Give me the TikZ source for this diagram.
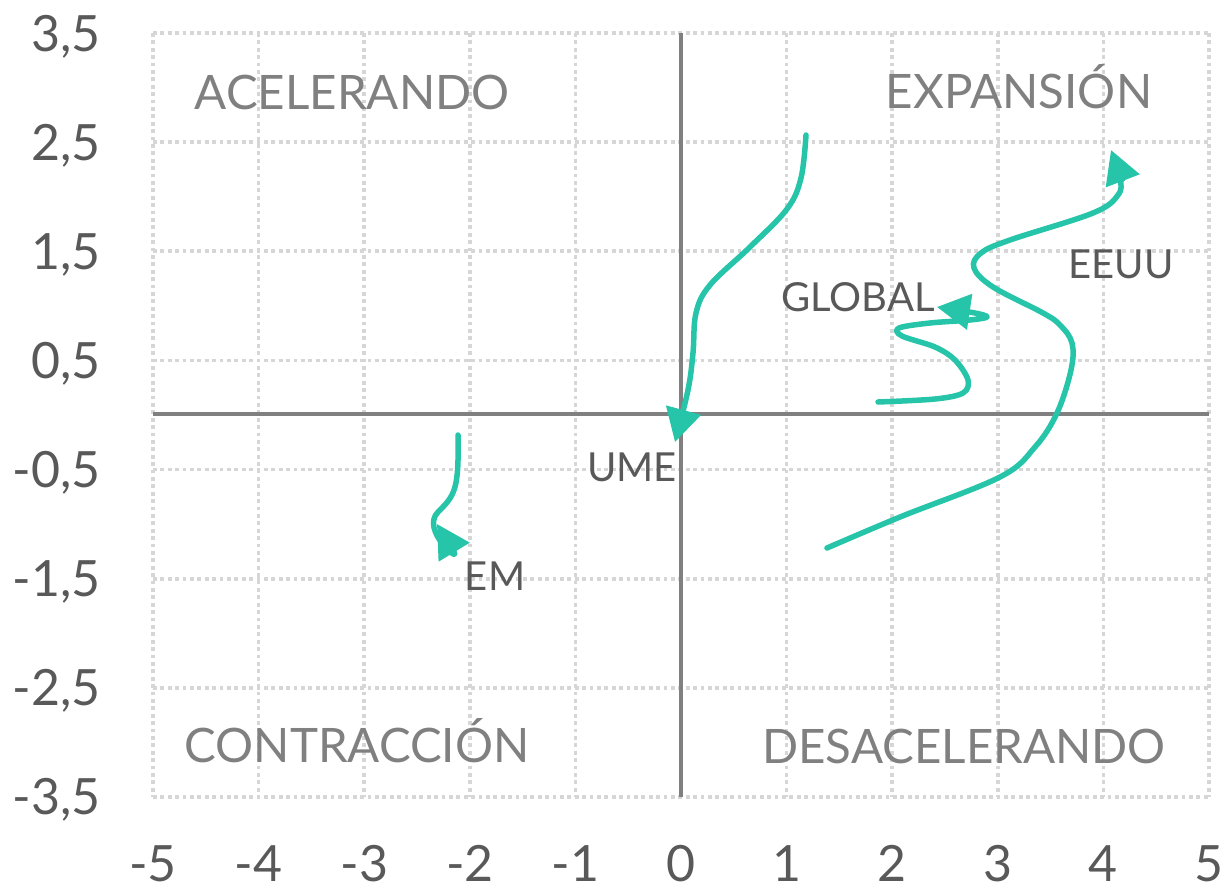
\documentclass[tikz,border=0pt]{standalone}
\usepackage{fontspec}
\setmainfont{Lato}
\usetikzlibrary{arrows.meta}
\definecolor{tealc}{HTML}{26C4A8}
\definecolor{gridc}{HTML}{D6D6D6}
\definecolor{axisc}{HTML}{808080}
\definecolor{tickc}{HTML}{595959}
\definecolor{quadc}{HTML}{808080}
\tikzset{
  gridline/.style={draw=gridc, line width=3.6pt, dash pattern=on 3.8pt off 3.6pt},
  axisline/.style={draw=axisc, line width=3.2pt},
  series/.style={draw=tealc, line width=5.5pt, line cap=round, line join=round,
    -{Triangle[length=33pt,width=35pt,fill=tealc]}},
  ticklab/.style={text=tickc, inner sep=0pt, font=\fontsize{50}{56}\selectfont},
  quadlab/.style={text=quadc, inner sep=0pt, anchor=base, font=\fontsize{47.5}{54}\selectfont},
  serlab/.style={text=tickc, inner sep=0pt, font=\fontsize{40}{46}\selectfont},
}
\begin{document}
\begin{tikzpicture}[x=1pt,y=-1pt]
\useasboundingbox (0,0) rectangle (1227,889);
% grid
\foreach \i in {-5,...,5}{
  \draw[gridline] ({681+105.6*\i},33) -- ({681+105.6*\i},797);
}
\foreach \v in {3.5,2.5,1.5,0.5,-0.5,-1.5,-2.5,-3.5}{
  \draw[gridline] (153,{415-109.14*\v}) -- (1209,{415-109.14*\v});
}
% axes
\draw[axisline] (681,33) -- (681,797);
\draw[axisline] (153,414) -- (1209,414);
% y tick labels
\foreach \v/\t in {3.5/{3,5},2.5/{2,5},1.5/{1,5},0.5/{0,5},-0.5/{-0,5},-1.5/{-1,5},-2.5/{-2,5},-3.5/{-3,5}}{
  \node[ticklab, anchor=base east] (yl\v) at (101,{415-109.14*\v+18}) {\t};
}
% x tick labels
\foreach \i in {-5,...,5}{
  \node[ticklab, anchor=base] (xl\i) at ({681+105.6*\i},881) {\i};
}
% quadrant labels
\node[quadlab] (acel) at (352,109) {ACELERANDO};
\node[quadlab] (expa) at (1019,108) {EXPANSIÓN};
\node[quadlab] (cont) at (357,762) {CONTRACCIÓN};
\node[quadlab] (desa) at (964,763) {DESACELERANDO};
% series labels
\node[serlab] (lglobal) at (858,297) {GLOBAL};
\node[serlab] (leeuu) at (1121,264) {EEUU};
\node[serlab] (lume) at (632,467) {UME};
\node[serlab] (lem) at (495,576) {EM};
% curves
\draw[series] plot[smooth, tension=0.6] coordinates {
  (806,135) (801,178) (787,209) (750,247) (710,285) (696,313) (693,353) (688,390) (675,442)};
\draw[series] plot[smooth, tension=0.55] coordinates {
  (878,402) (935,399) (963,393) (968,380) (955,360) (935,347) (902,336) (899,328)
  (930,323) (970,320) (987,317) (975,313) (937,307)};
\draw[series] plot[smooth, tension=0.6] coordinates {
  (827,548) (900,517) (1000,477) (1035,447) (1057,413) (1071,370) (1072,343)
  (1060,325) (1043,313) (993,287) (974,268) (981,253) (1010,240) (1093,213)
  (1118,195) (1120,178) (1111,150)};
\draw[series] (458,435) .. controls (459,490) and (455,495) .. (438,512)
  .. controls (420,530) and (462,565) .. (437,524);
\end{tikzpicture}
\end{document}
